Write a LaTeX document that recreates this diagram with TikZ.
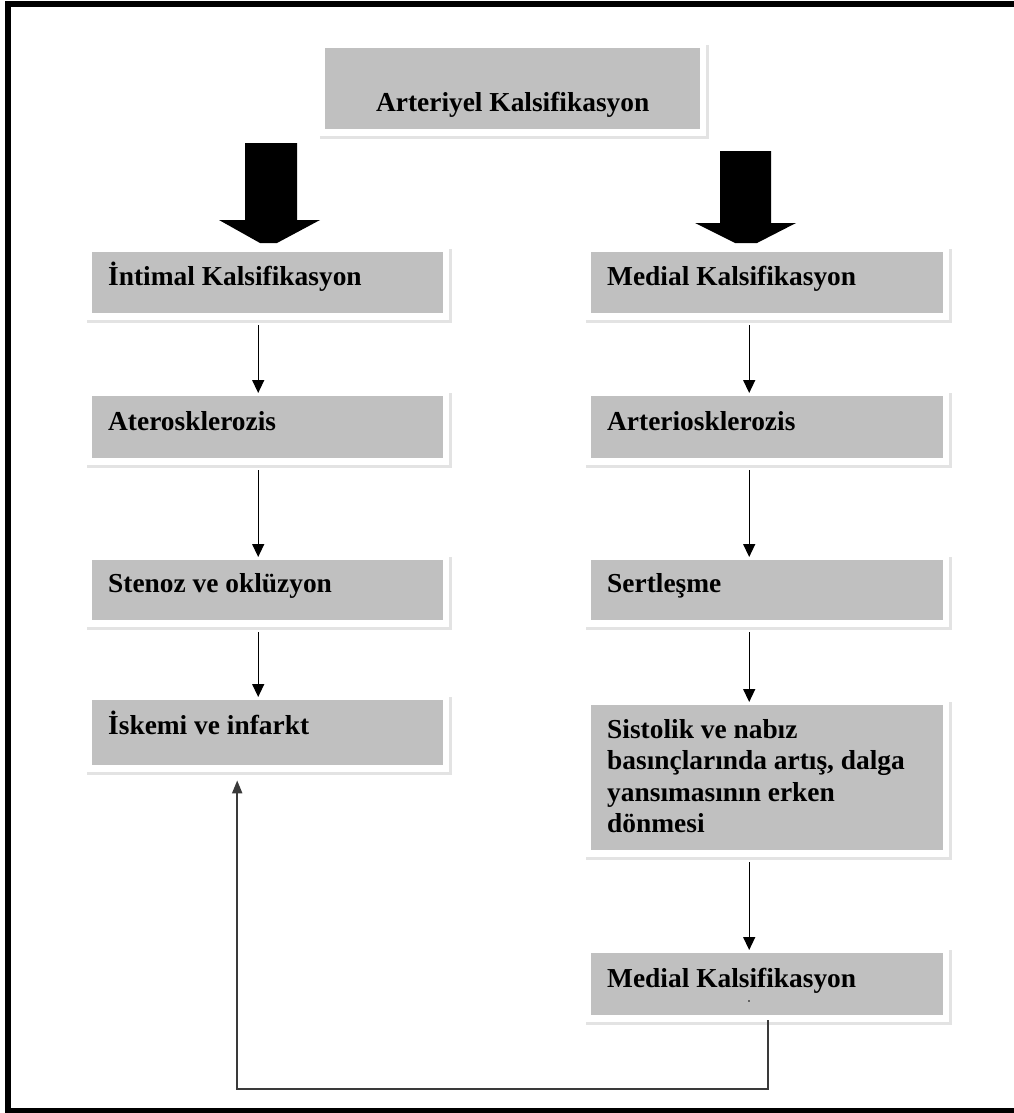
\documentclass[tikz,border=0pt]{standalone}
\usepackage{fontspec}
\setmainfont{Liberation Serif}
\usetikzlibrary{arrows.meta,calc}
\definecolor{boxgray}{HTML}{C0C0C0}
\definecolor{framegray}{HTML}{E3E3E3}
\definecolor{linkgray}{HTML}{3A3A3A}
\tikzset{
  cell/.style={fill=boxgray, draw=none, anchor=north west, inner sep=0pt},
  txt/.style={inner sep=0pt, font=\fontsize{27.4}{31.5}\selectfont\bfseries},
  arr/.style={line width=1.4pt, -{Triangle[width=12pt,length=13pt]}},
  fb/.style={draw=linkgray, line width=2pt, -{Triangle[width=10pt,length=13pt]}},
  blockarrow/.style={fill=black},
}
% \mybox{name}{x}{y}{w}{h}
\newcommand\mybox[5]{%
  \fill[framegray] ({#2-5},{#3+#5+7}) rectangle ({#2+#4+9},{#3+#5+10});
  \fill[framegray] ({#2+#4+6},{#3-3}) rectangle ({#2+#4+9},{#3+#5+10});
  \node[cell, minimum width=#4 pt, minimum height=#5 pt] (#1) at (#2,#3) {};
}
\begin{document}
\begin{tikzpicture}[x=1pt,y=-1pt]
\useasboundingbox (0,0) rectangle (1013,1113);
% outer frame (right side cut off)
\draw[line width=6pt, line join=miter] (1016,4.2) -- (8,4.2) -- (8,1110.5) -- (1016,1110.5);

% top box
\mybox{T}{325}{48}{375}{81}
\node[txt, anchor=base] (Tt) at ($(T.south)+(0,-18)$) {Arteriyel Kalsifikasyon};

% left column
\mybox{L1}{92}{252}{351}{61}
\mybox{L2}{92}{396}{351}{62}
\mybox{L3}{92}{560}{351}{60}
\mybox{L4}{92}{700}{351}{65}
\node[txt, anchor=base west] (L1t) at (108,285) {İntimal Kalsifikasyon};
\node[txt, anchor=base west] (L2t) at (108,430) {Aterosklerozis};
\node[txt, anchor=base west] (L3t) at (108,592) {Stenoz ve oklüzyon};
\node[txt, anchor=base west] (L4t) at (108,734) {İskemi ve infarkt};

% right column
\mybox{R1}{591}{252}{352}{61}
\mybox{R2}{591}{396}{352}{62}
\mybox{R3}{591}{560}{352}{60}
\mybox{R4}{591}{705}{352}{145}
\mybox{R5}{591}{953}{352}{62}
\node[txt, anchor=base west] (R1t) at (607,285) {Medial Kalsifikasyon};
\node[txt, anchor=base west] (R2t) at (607,430) {Arteriosklerozis};
\node[txt, anchor=base west] (R3t) at (607,592) {Sertleşme};
\node[txt, anchor=north west, align=left] (R4t) at (607,719) {Sistolik ve nabız\\basınçlarında artış, dalga\\yansımasının erken\\dönmesi};
\node[txt, anchor=base west] (R5t) at (607,987) {Medial Kalsifikasyon};
\fill (749,1001) circle (0.8);

% block arrows
\fill[blockarrow] (245,143) -- (297,143) -- (297,220) -- (320,220) -- (277,243) -- (260,243) -- (219,220) -- (245,220) -- cycle;
\fill[blockarrow] (720,151) -- (771,151) -- (771,223) -- (796,223) -- (757,243) -- (735,243) -- (695,223) -- (720,223) -- cycle;

% small arrows
\draw[arr] ($(L1.south)+(-9.5,12)$) -- ($(L2.north)+(-9.5,-3)$);
\draw[arr] ($(L2.south)+(-9.5,12)$) -- ($(L3.north)+(-9.5,-3)$);
\draw[arr] ($(L3.south)+(-9.5,12)$) -- ($(L4.north)+(-9.5,-3)$);
\draw[arr] ($(R1.south)+(-18,12)$) -- ($(R2.north)+(-18,-3)$);
\draw[arr] ($(R2.south)+(-18,12)$) -- ($(R3.north)+(-18,-3)$);
\draw[arr] ($(R3.south)+(-18,12)$) -- ($(R4.north)+(-18,-3)$);
\draw[arr] ($(R4.south)+(-18,12)$) -- ($(R5.north)+(-18,-3)$);

% feedback connector
\draw[fb] ($(R5.south)+(1,5)$) -- ++(0,69) -| ($(L4.south)+(-30.5,15)$);
\end{tikzpicture}
\end{document}
